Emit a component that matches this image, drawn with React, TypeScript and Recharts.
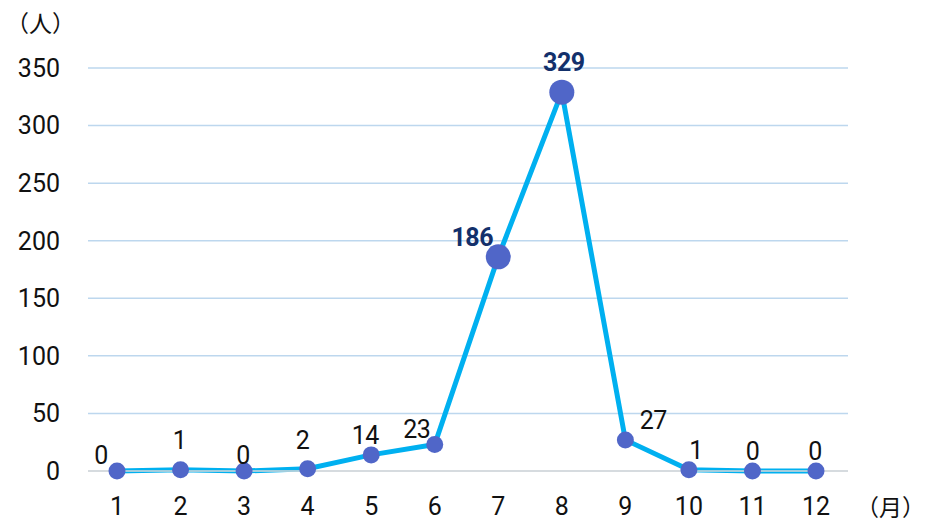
import React from "react";
import { LineChart, Line, XAxis, YAxis, CartesianGrid, LabelList } from "recharts";

const MONTHS = ["1", "2", "3", "4", "5", "6", "7", "8", "9", "10", "11", "12"];
const PEOPLE = [0, 1, 0, 2, 14, 23, 186, 329, 27, 1, 0, 0];
const Y_TICKS = [0, 50, 100, 150, 200, 250, 300, 350];

// label nudges per month (dx, dy from the dot centre)
const LABEL_NUDGE: [number, number][] = [
  [-16, -16], [-1, -29], [-1, -16], [-5, -28], [-6, -19], [-18, -15],
  [-26, -19], [2, -30], [28, -19], [7, -19], [0, -20], [-1, -20],
];
const BIG = new Set([186, 329]);

const FONT = "'Liberation Sans Narrow', 'Roboto', sans-serif";
const JP = "'Noto Sans CJK JP', sans-serif";
const LINE = "#00b0f0";
const DOT = "#5066c8";
const NAVY = "#13306b";

const data = MONTHS.map((m, i) => ({ month: m, people: PEOPLE[i] }));

const renderDot = (p: any) => {
  const big = BIG.has(p.value);
  return <circle key={p.index} cx={p.cx} cy={p.cy} r={big ? 12.5 : 8.5} fill={DOT} />;
};

const renderLabel = (p: any) => {
  const [dx, dy] = LABEL_NUDGE[p.index];
  const big = BIG.has(p.value);
  return (
    <text
      x={p.x + dx}
      y={p.y + dy}
      textAnchor="middle"
      dominantBaseline="central"
      fontFamily={FONT}
      fontSize={25}
      fontWeight={big ? 700 : 400}
      fill={big ? NAVY : "#111"}
      letterSpacing={-0.5}
    >
      {p.value}
    </text>
  );
};

const unitStyle = { position: "absolute" as const, fontSize: 23, lineHeight: "26px", color: "#111", fontFamily: JP, whiteSpace: "nowrap" as const };

export default function App() {
  return (
    <div style={{ position: "relative", width: 933, height: 523, background: "#fff", fontFamily: FONT, overflow: "hidden" }}>
      <style>{`body{margin:0}`}</style>
      <LineChart width={933} height={523} data={data} margin={{ top: 68, right: 85, bottom: 0, left: 0 }}>
        <CartesianGrid vertical={false} stroke="#bdd7ee" strokeWidth={1.5} />
        <XAxis
          dataKey="month"
          height={52}
          padding={{ left: 29, right: 32 }}
          tickLine={false}
          axisLine={{ stroke: "#d9d9d9", strokeWidth: 1.5 }}
          tickMargin={20}
          tick={{ fill: "#111", fontSize: 25, fontFamily: FONT }}
          interval={0}
        />
        <YAxis
          width={88}
          domain={[0, 350]}
          ticks={Y_TICKS}
          tickLine={false}
          axisLine={false}
          tickMargin={22}
          tick={{ fill: "#111", fontSize: 25, fontFamily: FONT }}
        />
        <Line
          type="linear"
          dataKey="people"
          stroke={LINE}
          strokeWidth={5}
          dot={renderDot}
          activeDot={false}
          isAnimationActive={false}
        >
          <LabelList dataKey="people" content={renderLabel} />
        </Line>
      </LineChart>
      <div style={{ ...unitStyle, left: 6, top: 9 }}>（人）</div>
      <div style={{ ...unitStyle, left: 856, top: 493 }}>（月）</div>
    </div>
  );
}
